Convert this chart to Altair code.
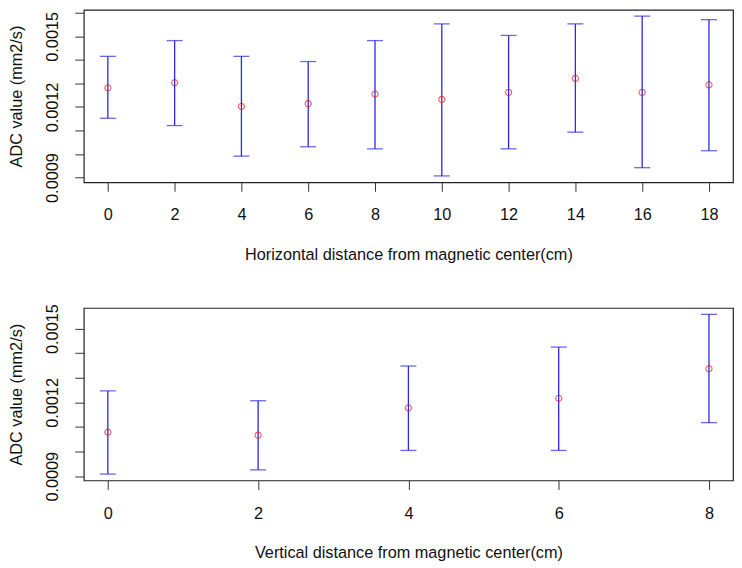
import altair as alt
import pandas as pd

# Top panel: horizontal distance (cm)
h_dist = [0, 2, 4, 6, 8, 10, 12, 14, 16, 18]
h_mean = [0.001281, 0.001303, 0.001202, 0.001214, 0.001255, 0.001232, 0.001262, 0.001321, 0.001262, 0.001294]
h_upper = [0.001415, 0.001482, 0.001415, 0.001393, 0.001482, 0.001553, 0.001504, 0.001553, 0.001586, 0.001571]
h_lower = [0.001152, 0.001121, 0.000991, 0.001031, 0.001022, 0.000907, 0.001022, 0.001093, 0.000942, 0.001014]

# Bottom panel: vertical distance (cm)
v_dist = [0, 2, 4, 6, 8]
v_mean = [0.001079, 0.001067, 0.001178, 0.001217, 0.001337]
v_upper = [0.001247, 0.001207, 0.001348, 0.001425, 0.001558]
v_lower = [0.000909, 0.000926, 0.001005, 0.001005, 0.001118]

h_yticks = [0.0009, 0.0010, 0.0011, 0.0012, 0.0013, 0.0014, 0.0015, 0.0016]
v_yticks = [0.0009, 0.0010, 0.0011, 0.0012, 0.0013, 0.0014, 0.0015]
y_labelled = ["0.0009", "0.0012", "0.0015"]

FONT = "Liberation Sans"
FS = 16.3
BAR = "#2a2ae0"
PT = "#f01818"
INK = "#111111"

W = 651
H = 173

label_list = "[" + ",".join("'%s'" % s for s in y_labelled) + "]"
LABEL_EXPR = ("indexof(%s, format(datum.value, '.4f')) >= 0 ? format(datum.value, '.4f') : ''"
              % label_list)


def panel(dist, mean, lower, upper, xdom, ydom, yticks, xtitle):
    df = pd.DataFrame({"d": dist, "m": mean, "lo": lower, "hi": upper})
    xs = alt.Scale(domain=xdom, nice=False, zero=False)
    ys = alt.Scale(domain=ydom, nice=False, zero=False)
    xax = alt.Axis(
        values=dist, format="d", title=xtitle, domain=False, grid=False,
        tickSize=9, tickColor="#333333", labelPadding=28.7,
        labelBaseline="alphabetic", labelFont=FONT, labelFontSize=FS,
        labelColor=INK, labelFlush=False, labelOverlap=False,
        titleFont=FONT, titleFontSize=FS, titleFontWeight="normal",
        titleColor=INK, titleY=77, titleBaseline="alphabetic",
    )
    yax = alt.Axis(
        values=yticks, title="ADC value (mm2/s)", domain=False, grid=False,
        tickSize=9, tickColor="#333333", labelPadding=17,
        labelAngle=270, labelAlign="center", labelBaseline="alphabetic",
        labelExpr=LABEL_EXPR,
        labelOverlap=False, labelFlush=False,
        labelFont=FONT, labelFontSize=FS, labelColor=INK,
        titleFont=FONT, titleFontSize=FS, titleFontWeight="normal",
        titleColor=INK, titleAngle=270, titleX=-62, titleBaseline="alphabetic",
    )
    X = lambda f: alt.X(f, scale=xs, axis=xax, title=xtitle)
    Y = lambda f: alt.Y(f, scale=ys, axis=yax, title="ADC value (mm2/s)")
    base = alt.Chart(df)
    bars = base.mark_rule(color=BAR, strokeWidth=1.3).encode(
        x=X("d:Q"), y=Y("lo:Q"), y2="hi:Q",
    )
    cap_hi = base.mark_tick(color=BAR, orient="horizontal", size=16, thickness=1.3).encode(
        x=X("d:Q"), y=Y("hi:Q")
    )
    cap_lo = base.mark_tick(color=BAR, orient="horizontal", size=16, thickness=1.3).encode(
        x=X("d:Q"), y=Y("lo:Q")
    )
    pts = base.mark_point(shape="circle", filled=False, color=PT, size=38, strokeWidth=1.1).encode(
        x=X("d:Q"), y=Y("m:Q")
    )
    return alt.layer(bars, cap_hi, cap_lo, pts).properties(width=W, height=H)


top = panel(h_dist, h_mean, h_lower, h_upper, [-0.72, 18.72], [0.00088, 0.001613],
            h_yticks, "Horizontal distance from magnetic center(cm)")
bottom = panel(v_dist, v_mean, v_lower, v_upper, [-0.32, 8.32], [0.000883, 0.001584],
               v_yticks, "Vertical distance from magnetic center(cm)")

chart = alt.vconcat(top, bottom, spacing=40).properties(
    padding=0, background="white"
).configure_view(stroke="#222222", strokeWidth=1.2)

chart.save("out.html", embed_options={"renderer": "svg", "actions": False})
